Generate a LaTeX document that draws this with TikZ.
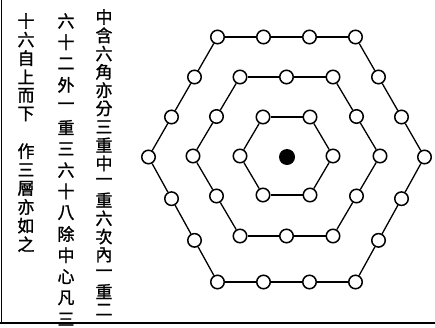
\documentclass[tikz,border=0pt]{standalone}
\usepackage{fontspec}
\newfontfamily\cjk{Noto Sans CJK TC}[FakeBold=1.2]
\usetikzlibrary{calc}
\begin{document}
\begin{tikzpicture}[x=1pt,y=-1pt,
  bead/.style={circle,draw,fill=white,line width=1.5pt,minimum size=13.5pt,inner sep=0pt},
  hexedge/.style={line width=1.3pt},
  glyph/.style={font=\cjk\fontsize{17}{17}\selectfont,inner sep=0pt}]
\useasboundingbox (0,0) rectangle (435,327);
% frame lines
\draw[line width=1.4pt] (1.5,0) -- (1.5,323);
\draw[line width=2.2pt] (0,323) -- (435,323);
% text columns
\foreach \ch [count=\i] in {中,含,六,角,亦,分,三,重,中,一,重,六,次,內,一,重,二}
  \node[glyph] (a\i) at (104,{17+(\i-1)*18.3}) {\ch};
\foreach \ch [count=\i] in {六,十,二,外,一,重,三,六,十,八,除,中,心,凡,三}
  \node[glyph] (b\i) at (66,{21+(\i-1)*21.3}) {\ch};
\foreach \ch/\k in {十/0,六/1,自/2,上/3,而/4,下/5,作/7,三/8,層/9,亦/10,如/11,之/12}
  \node[glyph] (c\k) at (26,{21+\k*18.6}) {\ch};
% outer hexagon
\coordinate (oV0) at (217.5,37);
\coordinate (oV1) at (355.5,37);
\coordinate (oV2) at (424.5,157);
\coordinate (oV3) at (355.5,282);
\coordinate (oV4) at (217.5,282);
\coordinate (oV5) at (148.5,157);
\foreach \k in {0,...,5}{
  \pgfmathtruncatemacro\nk{mod(\k+1,6)}
  \pgfmathtruncatemacro\pa{3*\k+1}
  \pgfmathtruncatemacro\pb{3*\k+2}
  \pgfmathtruncatemacro\pc{3*\k+3}
  \node[bead] (o\pa) at (oV\k) {};
  \node[bead] (o\pb) at ($(oV\k)!1/3!(oV\nk)$) {};
  \node[bead] (o\pc) at ($(oV\k)!2/3!(oV\nk)$) {};
}
\foreach \i in {1,...,18}{
  \pgfmathtruncatemacro\j{mod(\i,18)+1}
  \draw[hexedge] (o\i) -- (o\j);
}
% middle hexagon
\coordinate (mV0) at (240,77);
\coordinate (mV1) at (333,77);
\coordinate (mV2) at (380,156);
\coordinate (mV3) at (333,236);
\coordinate (mV4) at (240,236);
\coordinate (mV5) at (193,156);
\foreach \k in {0,...,5}{
  \pgfmathtruncatemacro\nk{mod(\k+1,6)}
  \pgfmathtruncatemacro\pa{2*\k+1}
  \pgfmathtruncatemacro\pb{2*\k+2}
  \node[bead] (m\pa) at (mV\k) {};
  \node[bead] (m\pb) at ($(mV\k)!1/2!(mV\nk)$) {};
}
\foreach \i in {1,...,12}{
  \pgfmathtruncatemacro\j{mod(\i,12)+1}
  \draw[hexedge] (m\i) -- (m\j);
}
% inner hexagon
\node[bead] (i1) at (263,117) {};
\node[bead] (i2) at (310,117) {};
\node[bead] (i3) at (333,156) {};
\node[bead] (i4) at (310,195) {};
\node[bead] (i5) at (263,195) {};
\node[bead] (i6) at (240,156) {};
\foreach \i in {1,...,6}{
  \pgfmathtruncatemacro\j{mod(\i,6)+1}
  \draw[hexedge] (i\i) -- (i\j);
}
% centre
\node[circle,fill=black,minimum size=16pt,inner sep=0pt] (ctr) at (287,157) {};
\end{tikzpicture}
\end{document}
